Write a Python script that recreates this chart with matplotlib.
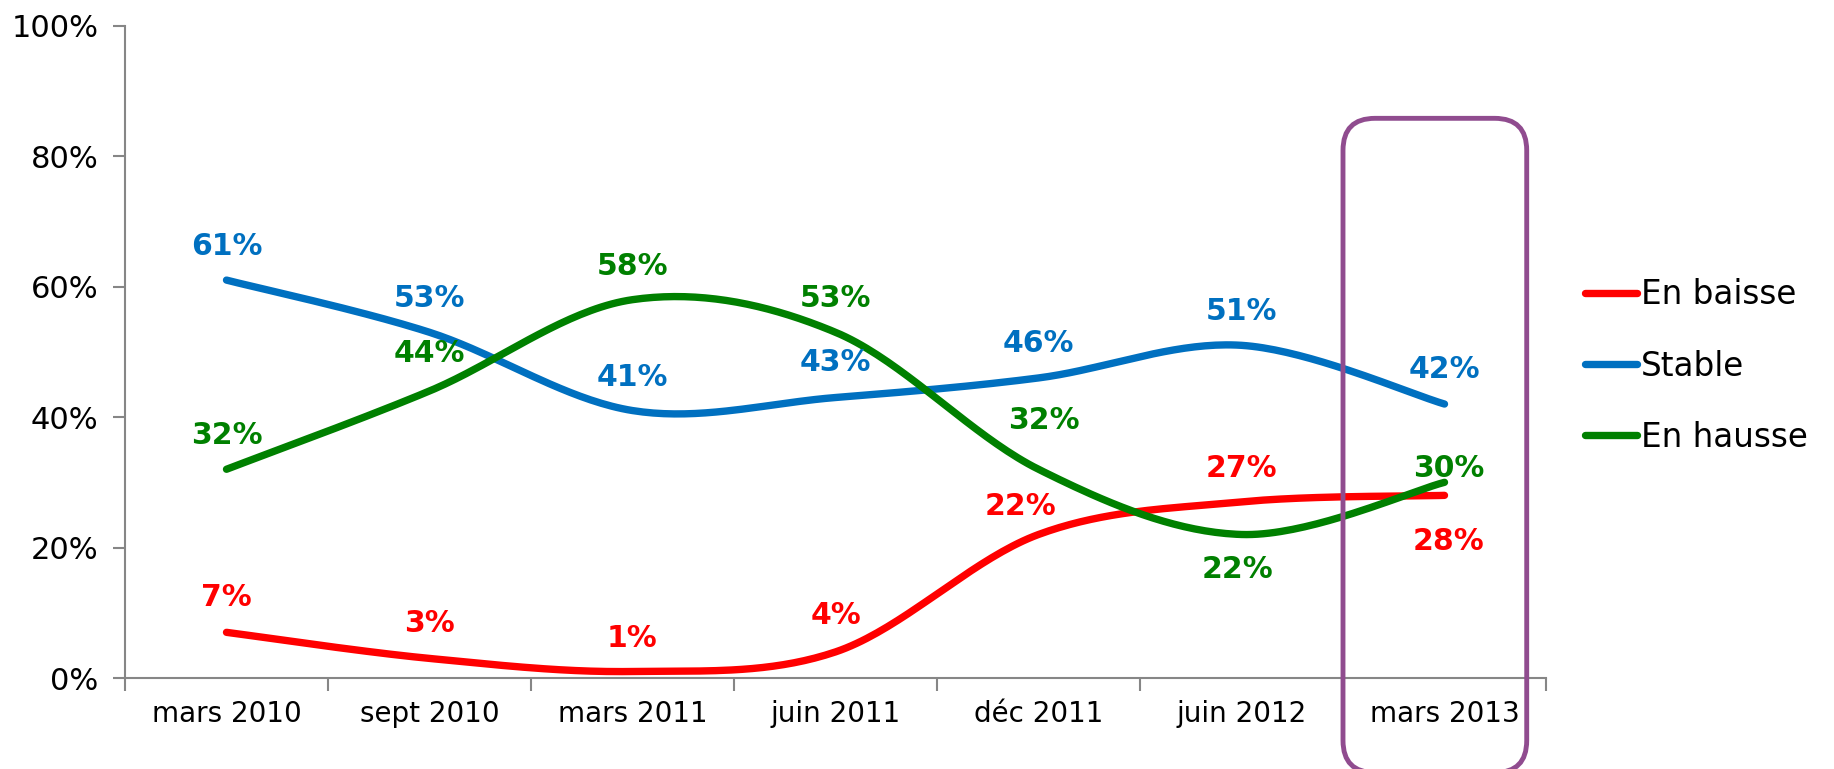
import matplotlib
matplotlib.use('Agg')
import matplotlib.pyplot as plt
from matplotlib.patches import FancyBboxPatch
import numpy as np

categories = ['mars 2010', 'sept 2010', 'mars 2011', 'juin 2011', 'déc 2011', 'juin 2012', 'mars 2013']
baisse = [7, 3, 1, 4, 22, 27, 28]
stable = [61, 53, 41, 43, 46, 51, 42]
hausse = [32, 44, 58, 53, 32, 22, 30]

series = [('En baisse', baisse, '#FF0000'),
          ('Stable', stable, '#0070C0'),
          ('En hausse', hausse, '#008000')]

# label offsets in points (layout only)
offsets = {
    'En baisse': [(0, 25), (0, 25), (0, 24), (0, 26), (-13, 20), (0, 24), (3, -33)],
    'Stable':    [(0, 24), (0, 24), (0, 24), (0, 25), (0, 25), (0, 24), (0, 25)],
    'En hausse': [(0, 24), (0, 27), (0, 24), (0, 24), (4, 35), (-3, -25), (3, 10)],
}


def smooth(x, y, n=40):
    # excel-like smoothed line: bezier with control points from neighbours
    x = np.asarray(x, float)
    y = np.asarray(y, float)
    px, py = [], []
    for i in range(len(x) - 1):
        x0, y0 = x[max(i - 1, 0)], y[max(i - 1, 0)]
        x1, y1 = x[i], y[i]
        x2, y2 = x[i + 1], y[i + 1]
        x3, y3 = x[min(i + 2, len(x) - 1)], y[min(i + 2, len(y) - 1)]
        c1x, c1y = x1 + (x2 - x0) / 6, y1 + (y2 - y0) / 6
        c2x, c2y = x2 - (x3 - x1) / 6, y2 - (y3 - y1) / 6
        t = np.linspace(0, 1, n)
        a, b, c, d = (1 - t) ** 3, 3 * (1 - t) ** 2 * t, 3 * (1 - t) * t ** 2, t ** 3
        px.extend(a * x1 + b * c1x + c * c2x + d * x2)
        py.extend(a * y1 + b * c1y + c * c2y + d * y2)
    return np.array(px), np.array(py)


W, H = 1834, 769
fig = plt.figure(figsize=(W / 100, H / 100), dpi=100)
ax = fig.add_axes([125 / W, 1 - 678 / H, (1546 - 125) / W, (678 - 25.7) / H])

xs = np.arange(len(categories))
for name, vals, col in series:
    sx, sy = smooth(xs, np.array(vals) / 100)
    ax.plot(sx, sy, color=col, lw=5.3, solid_capstyle='round', label=name, zorder=3)
    for i, v in enumerate(vals):
        ax.annotate('%d%%' % v, (xs[i], v / 100), xytext=offsets[name][i],
                    textcoords='offset points', ha='center', va='center',
                    color=col, fontsize=21.5, fontweight='bold', zorder=4)

ax.set_xlim(-0.5, len(categories) - 0.5)
ax.set_ylim(0, 1)
ax.set_yticks(np.arange(0, 1.01, 0.2))
ax.set_yticklabels(['%d%%' % (v * 100) for v in np.arange(0, 1.01, 0.2)], fontsize=22)
ax.set_xticks(xs)
ax.set_xticklabels(categories, fontsize=20)
ax.set_xticks(np.arange(-0.5, len(categories), 1), minor=True)
ax.tick_params(axis='x', which='major', length=0, pad=16)
ax.tick_params(axis='x', which='minor', length=9, width=1.5, color='#868686', direction='out')
ax.tick_params(axis='y', length=9, width=1.5, color='#868686', pad=10)
for s in ['top', 'right']:
    ax.spines[s].set_visible(False)
for s in ['left', 'bottom']:
    ax.spines[s].set_color('#868686')
    ax.spines[s].set_linewidth(1.5)

# highlight box around last category
fig.canvas.draw()
to_fig = fig.transFigure.inverted()
(x0, y0) = to_fig.transform(ax.transData.transform((5.5, -0.145)))
(x1, y1) = to_fig.transform(ax.transData.transform((6.405, 0.858)))
R = 32
box = FancyBboxPatch((x0, y0), x1 - x0, y1 - y0, transform=fig.transFigure,
                     boxstyle='round,pad=0,rounding_size=%f' % (R / W),
                     mutation_aspect=W / H, fill=False, ec='#904C8F', lw=3.5,
                     clip_on=False, zorder=5)
fig.patches.append(box)

leg = ax.legend(loc='center left', bbox_to_anchor=(1585 / W, 1 - 366 / H),
                bbox_transform=fig.transFigure, frameon=False, fontsize=23.5,
                handlelength=1.6, handletextpad=0.12, labelspacing=1.17,
                borderpad=0, borderaxespad=0)

plt.savefig('out.png', dpi=100)
